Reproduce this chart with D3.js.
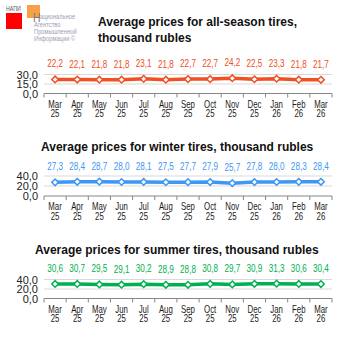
<!DOCTYPE html>
<html>
<head>
<meta charset="utf-8">
<script src="https://cdn.jsdelivr.net/npm/d3@7"></script>
<style>
  body { margin:0; background:#fff; }
  svg { display:block; }
</style>
</head>
<body>
<div id="chart"></div>
<script>
// data
var months = ["Mar","Apr","May","Jun","Jul","Aug","Sep","Oct","Nov","Dec","Jan","Feb","Mar"];
var years  = ["25","25","25","25","25","25","25","25","25","25","26","26","26"];

var allSeason = [22.2,22.1,21.8,21.8,23.1,21.8,22.7,22.7,24.2,22.5,23.3,21.8,21.7];
var winter    = [27.3,28.4,28.7,28.0,28.1,27.5,27.7,27.9,25.7,27.8,28.0,28.3,28.4];
var summer    = [30.6,30.7,29.5,29.1,30.2,28.9,28.8,30.8,29.7,30.9,31.3,30.6,30.4];

var ticksAll = [0,15,30];
var ticksWS  = [0,20,40];

var width = 353, height = 353;
var svg = d3.select("#chart").append("svg")
  .attr("width", width).attr("height", height);

var fmt = function(v){ return d3.format(".1f")(v).replace(".", ","); };
var sans = "'Liberation Sans',Arial,sans-serif";

// squeezed text (narrow look), placed with a transform
function squeezed(sel, fx, fy, sx){
  return sel.attr("transform", function(d,i){ return "translate("+fx(d,i)+","+fy(d,i)+") scale("+sx+",1)"; })
    .style("font-family", sans);
}

//logo
var logo = svg.append("g");
logo.append("rect").attr("x",27).attr("y",5).attr("width",13).attr("height",13).style("fill","#F7A046");
logo.append("rect").attr("x",6).attr("y",13).attr("width",16).attr("height",16).style("fill","#FF0000");
logo.append("text").attr("transform","translate(6,11) scale(0.75,1)").text("НАПИ")
  .style("font-family",sans).style("font-size","7px").style("fill","#555");
logo.append("text").attr("transform","translate(33,22) scale(0.8,1)").text("Н")
  .style("font-family",sans).style("font-size","13px").style("fill","#777");
var logoLines = [["ациональное",19,40],["Агентство",27,34],["Промышленной",34,34],["Информации ©",41,34]];
squeezed(logo.selectAll("t").data(logoLines).enter().append("text"),
    function(d){ return d[2]; }, function(d){ return d[1]; }, 0.72)
  .text(function(d){ return d[0]; })
  .style("font-size","8px").style("fill","#a0a0b4");

var x = d3.scaleBand().domain(d3.range(months.length)).range([44,332]).padding(0);
var cx = function(d,i){ return x(i)+x.bandwidth()/2; };

function drawChart(cfg){
  var g = svg.append("g");
  var y = d3.scaleLinear().domain([0, d3.max(cfg.ticks)]).range([cfg.y0, cfg.y1]);

  // title
  var t = g.append("text").attr("x", cfg.tx).attr("y", cfg.ty)
    .style("font-family",sans)
    .style("font-weight","bold").style("font-size","12px").style("fill","#111");
  cfg.title.forEach(function(s,i){
    t.append("tspan").attr("x", cfg.tx).attr("dy", i==0 ? 0 : 16).text(s);
  });

  // grid
  g.selectAll(".grid").data(cfg.ticks.slice(1)).enter().append("line")
    .attr("x1",44).attr("x2",332)
    .attr("y1", function(d){ return y(d); }).attr("y2", function(d){ return y(d); })
    .style("stroke","#d9d9d9").style("stroke-width",1);

  // y labels
  g.selectAll(".yl").data(cfg.ticks).enter().append("text")
    .attr("x",38).attr("y", function(d){ return y(d)+4; })
    .attr("text-anchor","end")
    .style("font-family",sans).style("font-size","11px").style("fill","#222")
    .text(fmt);

  // x axis
  g.append("line").attr("x1",44).attr("x2",332).attr("y1",cfg.y0).attr("y2",cfg.y0)
    .style("stroke","#868686").style("stroke-width",1);
  g.selectAll(".tk").data(d3.range(months.length+1)).enter().append("line")
    .attr("x1", function(i){ return 44 + i*x.step(); })
    .attr("x2", function(i){ return 44 + i*x.step(); })
    .attr("y1", cfg.y0).attr("y2", cfg.y0+4)
    .style("stroke","#868686").style("stroke-width",1);

  // month + year as two lines of one label
  var xl = squeezed(g.selectAll(".xm").data(months).enter().append("text"),
      cx, function(){ return cfg.y0+14; }, 0.68)
    .attr("text-anchor","middle").style("font-size","11.5px").style("fill","#1a1a1a");
  xl.append("tspan").attr("x",0).attr("y",0).text(function(d){ return d; });
  xl.append("tspan").attr("x",0).attr("y",9.5).text(function(d,i){ return years[i]; });

  // line
  var line = d3.line()
    .x(function(d,i){ return x(i)+x.bandwidth()/2; })
    .y(function(d){ return y(d); });
  g.append("path").datum(cfg.data).attr("d", line)
    .style("fill","none").style("stroke", cfg.color).style("stroke-width",3.5);

  // markers
  g.selectAll(".mk").data(cfg.data).enter().append("path")
    .attr("d", d3.symbol().type(d3.symbolDiamond2).size(28))
    .attr("transform", function(d,i){ return "translate("+cx(d,i)+","+y(d)+")"; })
    .style("fill","#fff").style("stroke", cfg.color).style("stroke-width",1.5);

  // value labels
  squeezed(g.selectAll(".vl").data(cfg.data).enter().append("text"),
      cx, function(d){ return y(d)-12; }, 0.74)
    .attr("text-anchor","middle")
    .style("font-size","11px").style("fill", cfg.labelColor)
    .text(fmt);
}

drawChart({title:["Average prices for all-season tires,","thousand rubles"], tx:98, ty:26,
  data:allSeason, ticks:ticksAll, y0:93.5, y1:74.5, color:"#F05022", labelColor:"#F04E23"});
drawChart({title:["Average prices for winter tires, thousand rubles"], tx:41, ty:151,
  data:winter, ticks:ticksWS, y0:196, y1:176, color:"#3D97F5", labelColor:"#3D97F5"});
drawChart({title:["Average prices for summer tires, thousand rubles"], tx:35, ty:254,
  data:summer, ticks:ticksWS, y0:298.5, y1:279.5, color:"#00B050", labelColor:"#00B050"});
</script>
</body>
</html>
